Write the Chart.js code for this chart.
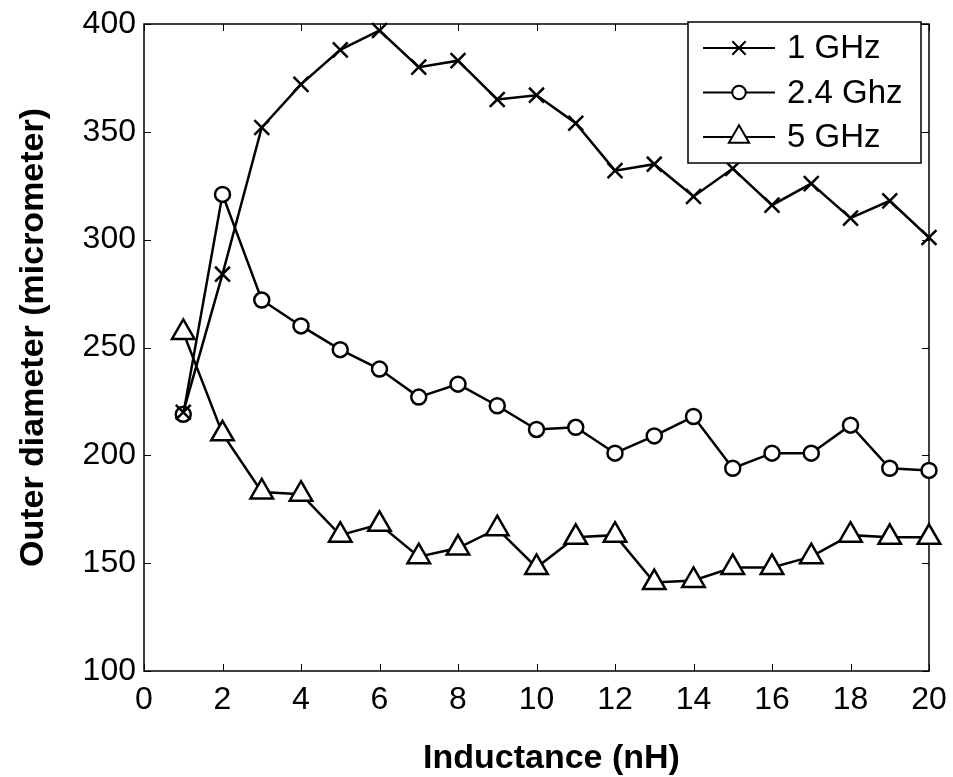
<!DOCTYPE html>
<html>
<head>
<meta charset="utf-8">
<script src="https://cdn.jsdelivr.net/npm/chart.js@4.4.0/dist/chart.umd.min.js"></script>
<style>
html, body { margin: 0; padding: 0; background: #fff; }
</style>
</head>
<body>
<canvas id="diameterChart" width="953" height="777"></canvas>
<script>
// inductance in nH, outer diameter in micrometer
var inductance = [1, 2, 3, 4, 5, 6, 7, 8, 9, 10, 11, 12, 13, 14, 15, 16, 17, 18, 19, 20];
var diameter1GHz = [220, 284, 352, 372, 388, 397, 380, 383, 365, 367, 354, 332, 335, 320, 333, 316, 326, 310, 318, 301];
var diameter24GHz = [219, 321, 272, 260, 249, 240, 227, 233, 223, 212, 213, 201, 209, 218, 194, 201, 201, 214, 194, 193];
var diameter5GHz = [257, 210, 183, 182, 163, 168, 153, 157, 166, 148, 162, 163, 141, 142, 148, 148, 153, 163, 162, 162];
var seriesNames = ['1 GHz', '2.4 Ghz', '5 GHz'];
var xTicks = [0, 2, 4, 6, 8, 10, 12, 14, 16, 18, 20];
var yTicks = [100, 150, 200, 250, 300, 350, 400];
var xTitle = 'Inductance (nH)';
var yTitle = 'Outer diameter (micrometer)';

var FONT = '"Liberation Sans", Arial, sans-serif';

function toPoints(values) {
	return values.map(function(v, i) {
		return { x : inductance[i], y : v };
	});
}

function makeSeries(label, values, style, radius) {
	return {
		label : label,
		data : toPoints(values),
		borderColor : '#000',
		borderWidth : 2.5,
		pointStyle : style,
		pointRadius : radius,
		pointHoverRadius : radius,
		pointBackgroundColor : '#fff',
		pointBorderColor : '#000',
		pointBorderWidth : 2.5,
		fill : false,
		tension : 0,
		clip : false
	};
}

// box around the plot with inward tick marks on all four sides
var framePlugin = {
	id : 'frame',
	beforeDatasetsDraw : function(c) {
		var ctx = c.ctx, a = c.chartArea, len = 7;
		ctx.save();
		ctx.strokeStyle = '#000';
		ctx.lineWidth = 1.5;
		ctx.strokeRect(a.left, a.top, a.right - a.left, a.bottom - a.top);
		ctx.lineWidth = 1;
		ctx.beginPath();
		c.scales.x.ticks.forEach(function(t) {
			var px = Math.round(c.scales.x.getPixelForValue(t.value)) + 0.5;
			ctx.moveTo(px, a.bottom); ctx.lineTo(px, a.bottom - len);
			ctx.moveTo(px, a.top); ctx.lineTo(px, a.top + len);
		});
		c.scales.y.ticks.forEach(function(t) {
			var py = Math.round(c.scales.y.getPixelForValue(t.value)) + 0.5;
			ctx.moveTo(a.left, py); ctx.lineTo(a.left + len, py);
			ctx.moveTo(a.right, py); ctx.lineTo(a.right - len, py);
		});
		ctx.stroke();
		ctx.restore();
	}
};

// axis titles, placed like the matlab export (slightly off centre)
var titlePlugin = {
	id : 'axisTitles',
	afterDraw : function(c) {
		var ctx = c.ctx, a = c.chartArea;
		ctx.save();
		ctx.fillStyle = '#000';
		ctx.font = 'bold 34px ' + FONT;
		ctx.textAlign = 'center';
		ctx.textBaseline = 'alphabetic';
		ctx.fillText(xTitle, (a.left + a.right) / 2 + 15, 768);
		ctx.translate(43, (a.top + a.bottom) / 2 - 10);
		ctx.rotate(-Math.PI / 2);
		ctx.fillText(yTitle, 0, 0);
		ctx.restore();
	}
};

// matlab style legend drawn inside the top right corner
var legendPlugin = {
	id : 'insideLegend',
	afterDraw : function(c) {
		var ctx = c.ctx, a = c.chartArea;
		var boxW = 233, rowH = 44.5;
		var boxH = 141;
		var x0 = a.right - 8 - boxW, y0 = a.top - 2;
		ctx.save();
		ctx.fillStyle = '#fff';
		ctx.fillRect(x0, y0, boxW, boxH);
		ctx.strokeStyle = '#000';
		ctx.lineWidth = 1.5;
		ctx.strokeRect(x0, y0, boxW, boxH);
		c.data.datasets.forEach(function(d, i) {
			var y = y0 + 26 + i * rowH;
			ctx.strokeStyle = '#000';
			ctx.lineWidth = 2;
			ctx.beginPath();
			ctx.moveTo(x0 + 15, y);
			ctx.lineTo(x0 + 87, y);
			ctx.stroke();
			ctx.fillStyle = '#fff';
			ctx.lineWidth = 2;
			Chart.helpers.drawPoint(ctx, {
				pointStyle : d.pointStyle,
				radius : d.pointRadius * 0.9,
				borderWidth : 2,
				rotation : 0
			}, x0 + 51, y);
			ctx.fillStyle = '#000';
			ctx.font = '33px ' + FONT;
			ctx.textAlign = 'left';
			ctx.textBaseline = 'middle';
			ctx.fillText(d.label, x0 + 99, y + 1);
		});
		ctx.restore();
	}
};

var context2D = document.getElementById('diameterChart').getContext('2d');

var myChart = new Chart(context2D, {
	type : 'line',
	data : {
		datasets : [
			makeSeries(seriesNames[0], diameter1GHz, 'crossRot', 10.5),
			makeSeries(seriesNames[1], diameter24GHz, 'circle', 7.5),
			makeSeries(seriesNames[2], diameter5GHz, 'triangle', 13)
		]
	},
	options : {
		responsive : false,
		animation : false,
		events : [],
		layout : {
			padding : { top : 24, right : 24, left : 0, bottom : 0 }
		},
		plugins : {
			legend : { display : false },
			tooltip : { enabled : false }
		},
		scales : {
			x : {
				type : 'linear',
				min : 0,
				max : 20,
				afterBuildTicks : function(s) {
					s.ticks = xTicks.map(function(v) { return { value : v }; });
				},
				afterFit : function(s) {
					s.height = 106;
					s.paddingLeft = 0;
					s.paddingRight = 0;
				},
				grid : { display : false, drawTicks : false },
				border : { display : false },
				ticks : {
					color : '#000',
					padding : 10,
					maxRotation : 0,
					autoSkip : false,
					font : { family : FONT, size : 32 }
				}
			},
			y : {
				type : 'linear',
				min : 100,
				max : 400,
				afterBuildTicks : function(s) {
					s.ticks = yTicks.map(function(v) { return { value : v }; });
				},
				afterFit : function(s) {
					s.width = 144;
					s.paddingTop = 0;
					s.paddingBottom = 0;
				},
				grid : { display : false, drawTicks : false },
				border : { display : false },
				ticks : {
					color : '#000',
					padding : 8,
					autoSkip : false,
					font : { family : FONT, size : 32 }
				}
			}
		}
	},
	plugins : [ framePlugin, titlePlugin, legendPlugin ]
});
</script>
</body>
</html>
